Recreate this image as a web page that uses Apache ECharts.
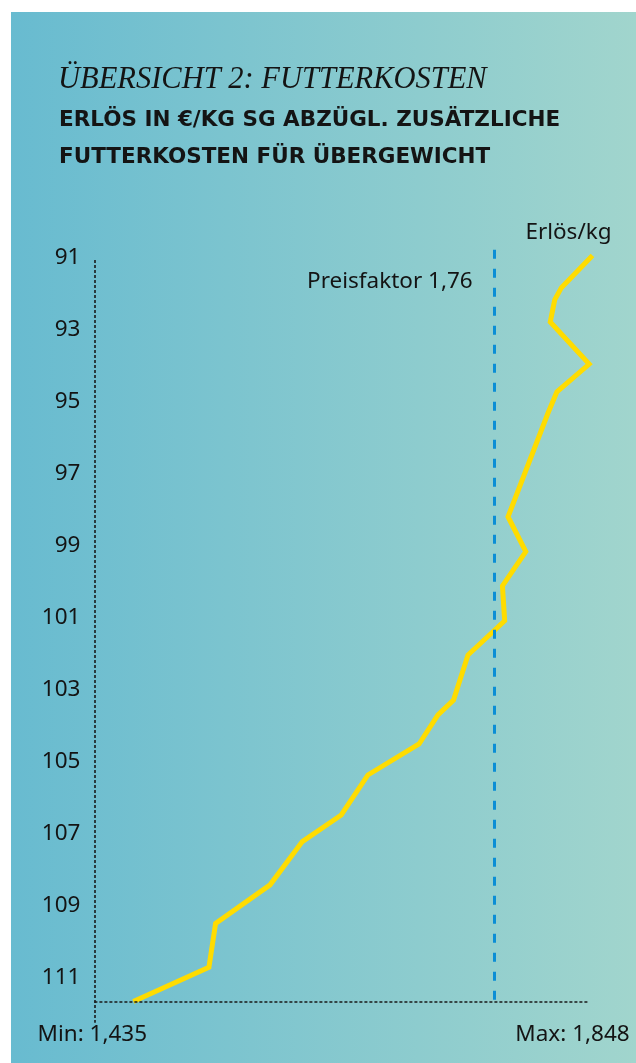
<!DOCTYPE html>
<html>
<head>
<meta charset="utf-8">
<script src="https://cdn.jsdelivr.net/npm/echarts@6/dist/echarts.min.js"></script>
<style>
  html, body { margin: 0; padding: 0; background: #ffffff; }
  #chart { width: 636px; height: 1063px; }
</style>
</head>
<body>
<div id="chart"></div>
<script>
// Schlachtgewicht (kg), von unten (schwer) nach oben (leicht)
const weights = [111.66, 110.71, 109.49, 108.42, 107.22, 106.48, 105.37, 104.51, 103.70, 103.29,
                 102.04, 101.09, 100.12, 99.17, 98.20, 95.32, 94.73, 93.96, 92.79, 92.18, 91.84, 90.95];
// Erlös in €/kg SG abzügl. zusätzlicher Futterkosten
const revenue = [1.435, 1.503, 1.509, 1.558, 1.587, 1.622, 1.646, 1.692, 1.709, 1.723,
                 1.736, 1.769, 1.767, 1.788, 1.772, 1.808, 1.816, 1.845, 1.810, 1.814, 1.820, 1.848];
// Beschriftete Gewichte an der y-Achse
const weightTicks = [91, 93, 95, 97, 99, 101, 103, 105, 107, 109, 111];
// Referenz: Preisfaktor
const priceFactor = 1.76;

const xMin = Math.min(...revenue);
const xMax = Math.max(...revenue);
const de = v => v.toFixed(3).replace('.', ',');

const labelFont = 'Noto Sans';
const textColor = '#141414';

const chart = echarts.init(document.getElementById('chart'), null, { renderer: 'canvas' });

chart.setOption({
  animation: false,
  graphic: [{
    type: 'rect',
    left: 11, top: 12, z: -10,
    shape: { width: 625, height: 1051 },
    style: {
      fill: new echarts.graphic.LinearGradient(0, 0, 1, 0, [
        { offset: 0, color: '#68bbd0' },
        { offset: 1, color: '#a1d5cd' }
      ])
    }
  }],
  title: [{
    text: 'ÜBERSICHT 2: FUTTERKOSTEN',
    left: 58, top: 65, padding: 0,
    textStyle: { fontFamily: 'Liberation Serif', fontStyle: 'italic', fontWeight: 'normal', fontSize: 30.5, color: textColor }
  }, {
    text: 'ERLÖS IN €/KG SG ABZÜGL. ZUSÄTZLICHE\nFUTTERKOSTEN FÜR ÜBERGEWICHT',
    left: 59, top: 102, padding: 0,
    textStyle: { fontFamily: 'DejaVu Sans', fontWeight: 'bold', fontSize: 21.5, lineHeight: 37, color: textColor }
  }],
  grid: { left: 94.4, right: 43.5, top: 239.4, bottom: 13.2, containLabel: false },
  xAxis: {
    type: 'value', min: 1.4, max: xMax, show: false
  },
  yAxis: {
    type: 'value', inverse: true, min: 90.5, max: 113,
    axisLine: { show: false }, axisTick: { show: false }, splitLine: { show: false },
    axisLabel: {
      customValues: weightTicks, margin: 14,
      fontFamily: labelFont, fontSize: 22.5, color: textColor
    }
  },
  series: [{
    type: 'line',
    data: revenue.map((r, i) => [r, weights[i]]),
    symbol: 'none', clip: false,
    lineStyle: { color: '#ffdc00', width: 5, join: 'miter', miterLimit: 10, cap: 'butt' },
    markLine: {
      silent: true, symbol: 'none', animation: false,
      label: { show: false },
      data: [
        [{ coord: [1.4, 91.07], lineStyle: { color: '#1a1a1a', width: 1.6, type: [3, 2] } },
         { coord: [1.4, 112.25] }],
        [{ coord: [1.4, 111.66], lineStyle: { color: '#1a1a1a', width: 1.6, type: [3, 2] } },
         { coord: [1.844, 111.66] }],
        [{ coord: [priceFactor, 90.79], lineStyle: { color: '#0b8ed5', width: 3, type: [9, 10] } },
         { coord: [priceFactor, 111.66] }]
      ]
    },
    markPoint: {
      silent: true, symbol: 'circle', symbolSize: 0, animation: false,
      label: { fontFamily: labelFont, fontSize: 22.5, color: textColor },
      data: [
        { coord: [xMax, 90.95], label: { formatter: 'Erlös/kg', position: 'inside', offset: [-24, -23] } },
        { coord: [priceFactor, 91.68], label: { formatter: 'Preisfaktor 1,76', position: 'left', distance: 22 } },
        { coord: [xMin, 112.59], label: { formatter: 'Min: ' + de(xMin), position: 'inside', offset: [-41, 0] } },
        { coord: [xMax, 112.59], label: { formatter: 'Max: ' + de(xMax), position: 'inside', offset: [-20, 0] } }
      ]
    }
  }]
});
</script>
</body>
</html>
